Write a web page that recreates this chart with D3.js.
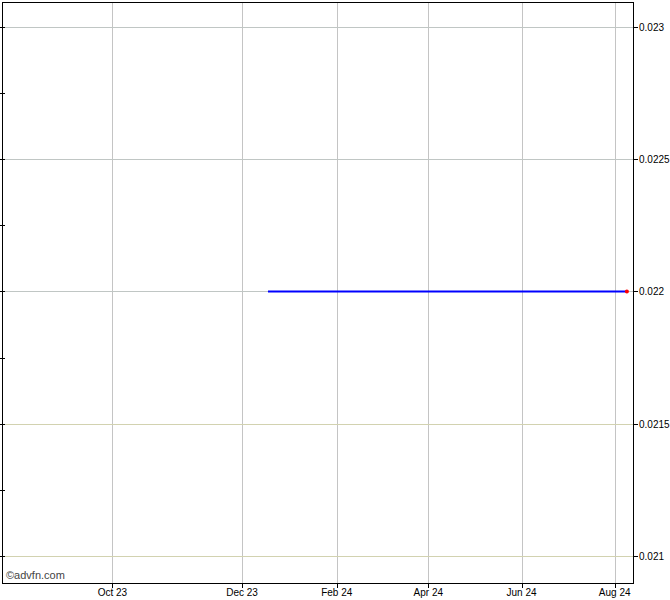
<!DOCTYPE html>
<html><head><meta charset="utf-8">
<script src="https://cdn.jsdelivr.net/npm/d3@7"></script>
<style>body{margin:0;background:#fff}text{font-family:"Liberation Sans",Arial,sans-serif}</style>
</head><body>
<svg id="c" width="670" height="600"></svg>
<script>
const dates = ["2023-12-18","2024-01-15","2024-02-15","2024-03-15","2024-04-15","2024-05-15","2024-06-14","2024-07-15","2024-08-09"];
const prices = [0.022,0.022,0.022,0.022,0.022,0.022,0.022,0.022,0.022];
const xTickDates = ["2023-10-01","2023-12-01","2024-02-01","2024-04-01","2024-06-01","2024-08-01"];
const xTickLabels = ["Oct 23","Dec 23","Feb 24","Apr 24","Jun 24","Aug 24"];
const yTicks = [0.021,0.0215,0.022,0.0225,0.023];
const yTickLabels = ["0.021","0.0215","0.022","0.0225","0.023"];
const yMinor = [0.02125,0.02175,0.02225,0.02275];
const xDomain = ["2023-08-10","2023-12-01","2024-08-13"];
const yDomain = [0.020898,0.023094];

const parse = d3.timeParse("%Y-%m-%d");
const L=2, R=633, T=2, B=583;
const x = d3.scaleTime().domain(xDomain.map(parse)).range([L,242,R]);
const y = d3.scaleLinear().domain(yDomain).range([B,T]);
const svg = d3.select("#c");

// vertical gridlines
svg.append("g").selectAll("line").data(xTickDates).join("line")
  .attr("x1",d=>Math.round(x(parse(d)))+0.5).attr("x2",d=>Math.round(x(parse(d)))+0.5)
  .attr("y1",T).attr("y2",B).attr("stroke","#c4c4c4").attr("stroke-width",1);
// horizontal gridlines
svg.append("g").selectAll("line").data(yTicks).join("line")
  .attr("x1",L).attr("x2",R)
  .attr("y1",d=>Math.round(y(d))+0.5).attr("y2",d=>Math.round(y(d))+0.5)
  .attr("stroke",d=>d<0.0218?"#d2d2b0":"#c0c6c4").attr("stroke-width",1);

// frame
svg.append("line").attr("x1",L+0.5).attr("x2",L+0.5).attr("y1",T).attr("y2",B+1).attr("stroke","#000");
svg.append("line").attr("x1",R+0.5).attr("x2",R+0.5).attr("y1",T).attr("y2",B+1).attr("stroke","#000");
svg.append("line").attr("x1",L).attr("x2",R+1).attr("y1",T+0.5).attr("y2",T+0.5).attr("stroke","#000");
svg.append("line").attr("x1",L).attr("x2",R+1).attr("y1",B+0.5).attr("y2",B+0.5).attr("stroke","#000");

// left ticks
svg.append("g").selectAll("line").data(yTicks.concat(yMinor)).join("line")
  .attr("x1",L-2).attr("x2",L+3)
  .attr("y1",d=>Math.round(y(d))+0.5).attr("y2",d=>Math.round(y(d))+0.5).attr("stroke","#000");
// right ticks + labels
const ry = svg.append("g");
ry.selectAll("line").data(yTicks).join("line")
  .attr("x1",R).attr("x2",R+5)
  .attr("y1",d=>Math.round(y(d))+0.5).attr("y2",d=>Math.round(y(d))+0.5).attr("stroke","#000");
ry.selectAll("text").data(yTicks).join("text")
  .attr("x",R+6).attr("y",d=>y(d)+4)
  .attr("font-size",10).attr("fill","#000")
  .text((d,i)=>yTickLabels[i]);

// bottom ticks + labels
const bx = svg.append("g");
bx.selectAll("line").data(xTickDates).join("line")
  .attr("x1",d=>Math.round(x(parse(d)))+0.5).attr("x2",d=>Math.round(x(parse(d)))+0.5)
  .attr("y1",B).attr("y2",B+5).attr("stroke","#000");
bx.selectAll("text").data(xTickDates).join("text")
  .attr("x",d=>x(parse(d))).attr("y",596).attr("text-anchor","middle")
  .attr("font-size",10).attr("fill","#000")
  .text((d,i)=>xTickLabels[i]);

// price line
const pts = dates.map((d,i)=>({d:parse(d),v:prices[i]}));
svg.append("path").datum(pts)
  .attr("d",d3.line().x(p=>x(p.d)).y(p=>Math.round(y(p.v))+0.5))
  .attr("fill","none").attr("stroke","#0000ff").attr("stroke-width",2);
const last = pts[pts.length-1];
svg.append("circle").attr("cx",x(last.d)).attr("cy",Math.round(y(last.v))+0.5).attr("r",2).attr("fill","#ff0000");

svg.append("text").attr("x",6).attr("y",579).attr("font-size",11).attr("fill","#444").text("©advfn.com");
</script>
</body></html>
